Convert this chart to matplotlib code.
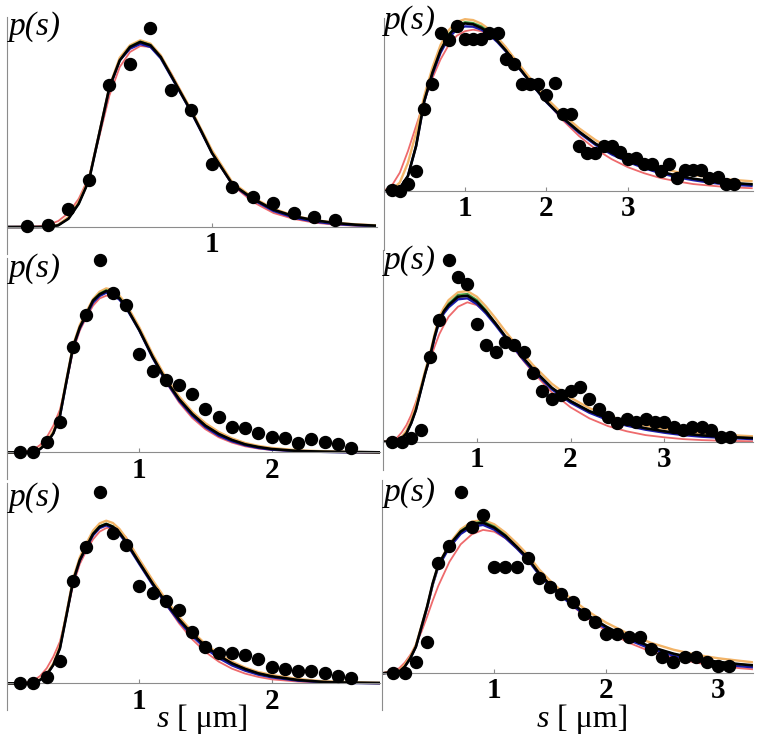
import numpy as np
import matplotlib.pyplot as plt
from matplotlib import font_manager

# ---- panel A (top left) ----
a_s = [0.1, 0.2, 0.3, 0.4, 0.5, 0.6, 0.7, 0.8, 0.9, 1.0, 1.1, 1.2, 1.3, 1.4, 1.5, 1.6]
a_p = [0.007, 0.017, 0.183, 0.467, 1.417, 1.633, 1.993, 1.373, 1.167, 0.633, 0.400, 0.300, 0.243, 0.143, 0.100, 0.067]
a_x = [0, 0.15, 0.2, 0.25, 0.3, 0.35, 0.4, 0.45, 0.5, 0.55, 0.6, 0.65, 0.7, 0.75, 0.8, 0.85, 0.9, 0.95, 1.0,
       1.1, 1.2, 1.3, 1.4, 1.5, 1.6, 1.7, 1.8]
a_black = [0, 0, 0, 0.017, 0.083, 0.233, 0.467, 0.933, 1.400, 1.667, 1.800, 1.850, 1.817, 1.700, 1.517, 1.333,
           1.150, 0.950, 0.740, 0.427, 0.283, 0.173, 0.107, 0.067, 0.040, 0.023, 0.013]
a_red = [0, 0.007, 0.020, 0.060, 0.140, 0.283, 0.500, 0.900, 1.317, 1.600, 1.750, 1.810, 1.800, 1.700, 1.540, 1.350,
         1.150, 0.943, 0.740, 0.417, 0.250, 0.140, 0.080, 0.043, 0.023, 0.013, 0.007]
a_blue = [0, 0, 0.003, 0.020, 0.090, 0.240, 0.473, 0.933, 1.393, 1.667, 1.783, 1.830, 1.800, 1.687, 1.507, 1.327,
          1.143, 0.943, 0.740, 0.423, 0.273, 0.160, 0.093, 0.053, 0.030, 0.017, 0.010]
a_green = [0, 0, 0, 0.017, 0.083, 0.233, 0.467, 0.933, 1.400, 1.667, 1.807, 1.857, 1.823, 1.700, 1.517, 1.333,
           1.150, 0.950, 0.740, 0.427, 0.283, 0.173, 0.107, 0.067, 0.040, 0.023, 0.013]
a_orange = [0, 0, 0.003, 0.023, 0.100, 0.250, 0.483, 0.940, 1.407, 1.693, 1.817, 1.867, 1.833, 1.717, 1.533, 1.350,
            1.167, 0.967, 0.767, 0.445, 0.295, 0.183, 0.113, 0.070, 0.043, 0.027, 0.017]

# ---- panel B (top right) ----
b_s = [0.1, 0.2, 0.3, 0.4, 0.5, 0.6, 0.7, 0.8, 0.9, 1.0, 1.1, 1.2, 1.3, 1.4, 1.5, 1.6, 1.7, 1.8, 1.9, 2.0,
       2.1, 2.2, 2.3, 2.4, 2.5, 2.6, 2.7, 2.8, 2.9, 3.0, 3.1, 3.2, 3.3, 3.4, 3.5, 3.6, 3.7, 3.8, 3.9, 4.0,
       4.1, 4.2, 4.3]
b_p = [0.002, 0, 0.024, 0.067, 0.274, 0.358, 0.528, 0.502, 0.549, 0.506, 0.506, 0.506, 0.528, 0.528, 0.441,
       0.424, 0.358, 0.358, 0.358, 0.319, 0.361, 0.256, 0.256, 0.150, 0.128, 0.128, 0.150, 0.150, 0.130, 0.106,
       0.111, 0.089, 0.089, 0.067, 0.089, 0.044, 0.069, 0.069, 0.069, 0.044, 0.047, 0.024, 0.024]
b_x = [0, 0.1, 0.2, 0.3, 0.4, 0.5, 0.6, 0.7, 0.8, 0.9, 1.0, 1.1, 1.2, 1.3, 1.4, 1.5, 1.6, 1.8, 2.0, 2.2, 2.4,
       2.6, 2.8, 3.0, 3.2, 3.4, 3.6, 3.8, 4.0, 4.2, 4.53]
b_black = [0, 0, 0.009, 0.050, 0.150, 0.300, 0.394, 0.469, 0.520, 0.549, 0.559, 0.556, 0.544, 0.527, 0.500, 0.469,
           0.433, 0.364, 0.298, 0.244, 0.198, 0.158, 0.127, 0.102, 0.081, 0.064, 0.051, 0.041, 0.033, 0.028, 0.022]
b_red = [0, 0.017, 0.061, 0.133, 0.217, 0.300, 0.376, 0.439, 0.487, 0.518, 0.533, 0.538, 0.533, 0.520, 0.498, 0.469,
         0.437, 0.367, 0.298, 0.236, 0.183, 0.140, 0.106, 0.079, 0.059, 0.043, 0.032, 0.023, 0.018, 0.013, 0.009]
b_blue = [0, 0, 0.009, 0.050, 0.150, 0.298, 0.389, 0.461, 0.511, 0.539, 0.549, 0.548, 0.538, 0.521, 0.496, 0.466,
          0.431, 0.362, 0.296, 0.241, 0.194, 0.154, 0.122, 0.097, 0.076, 0.059, 0.046, 0.036, 0.028, 0.022, 0.017]
b_green = [0, 0, 0.009, 0.050, 0.150, 0.300, 0.394, 0.469, 0.524, 0.553, 0.564, 0.561, 0.550, 0.531, 0.500, 0.469,
           0.433, 0.364, 0.298, 0.244, 0.198, 0.158, 0.127, 0.102, 0.081, 0.064, 0.051, 0.041, 0.033, 0.028, 0.022]
b_orange = [0, 0.004, 0.028, 0.094, 0.194, 0.317, 0.411, 0.487, 0.536, 0.564, 0.573, 0.570, 0.558, 0.539, 0.511,
            0.480, 0.444, 0.376, 0.309, 0.256, 0.209, 0.170, 0.139, 0.114, 0.093, 0.077, 0.063, 0.053, 0.046,
            0.039, 0.032]

# ---- panel C (middle left) ----
c_s = [0.1, 0.2, 0.3, 0.4, 0.5, 0.6, 0.7, 0.8, 0.9, 1.0, 1.1, 1.2, 1.3, 1.4, 1.5, 1.6, 1.7, 1.8, 1.9, 2.0,
       2.1, 2.2, 2.3, 2.4, 2.5, 2.6]
c_p = [0.005, 0, 0.075, 0.230, 0.793, 1.030, 1.443, 1.193, 1.105, 0.735, 0.610, 0.543, 0.505, 0.435, 0.325,
       0.263, 0.193, 0.185, 0.143, 0.118, 0.110, 0.068, 0.100, 0.075, 0.060, 0.030]
c_x = [0, 0.15, 0.2, 0.25, 0.3, 0.35, 0.4, 0.45, 0.5, 0.55, 0.6, 0.65, 0.7, 0.75, 0.8, 0.85, 0.9, 1.0, 1.1, 1.2,
       1.3, 1.4, 1.5, 1.6, 1.7, 1.8, 1.9, 2.0, 2.2, 2.4, 2.6, 2.82]
c_black = [0, 0, 0.005, 0.025, 0.068, 0.143, 0.275, 0.538, 0.793, 0.938, 1.038, 1.138, 1.185, 1.210, 1.195, 1.155,
           1.093, 0.918, 0.718, 0.543, 0.400, 0.288, 0.200, 0.138, 0.093, 0.060, 0.040, 0.025, 0.010, 0.005,
           0.003, 0]
c_red = [0, 0.008, 0.020, 0.055, 0.113, 0.200, 0.320, 0.525, 0.763, 0.913, 1.013, 1.100, 1.155, 1.175, 1.175,
         1.150, 1.100, 0.930, 0.720, 0.530, 0.375, 0.258, 0.173, 0.113, 0.073, 0.045, 0.028, 0.018, 0.008, 0.003,
         0, 0]
c_blue = [0, 0, 0.005, 0.025, 0.070, 0.145, 0.270, 0.533, 0.788, 0.930, 1.028, 1.123, 1.173, 1.198, 1.185, 1.145,
          1.085, 0.913, 0.710, 0.533, 0.388, 0.275, 0.188, 0.125, 0.083, 0.053, 0.033, 0.020, 0.008, 0.003, 0, 0]
c_green = [0, 0, 0.005, 0.025, 0.068, 0.143, 0.275, 0.538, 0.793, 0.938, 1.038, 1.143, 1.193, 1.218, 1.203, 1.163,
           1.093, 0.918, 0.718, 0.543, 0.400, 0.288, 0.200, 0.138, 0.093, 0.060, 0.040, 0.025, 0.010, 0.005,
           0.003, 0]
c_orange = [0, 0, 0.008, 0.030, 0.080, 0.158, 0.288, 0.550, 0.805, 0.955, 1.055, 1.150, 1.205, 1.230, 1.218,
            1.175, 1.113, 0.938, 0.738, 0.563, 0.420, 0.305, 0.218, 0.153, 0.105, 0.070, 0.048, 0.033, 0.015,
            0.008, 0.003, 0]

# ---- panel D (middle right) ----
d_s = [0.1, 0.2, 0.3, 0.4, 0.5, 0.6, 0.7, 0.8, 0.9, 1.0, 1.1, 1.2, 1.3, 1.4, 1.5, 1.6, 1.7, 1.8, 1.9, 2.0,
       2.1, 2.2, 2.3, 2.4, 2.5, 2.6, 2.7, 2.8, 2.9, 3.0, 3.1, 3.2, 3.3, 3.4, 3.5, 3.6, 3.7]
d_p = [0, 0, 0.020, 0.058, 0.425, 0.608, 0.908, 0.822, 0.787, 0.588, 0.483, 0.447, 0.500, 0.483, 0.447, 0.342,
       0.253, 0.213, 0.233, 0.253, 0.272, 0.213, 0.163, 0.125, 0.092, 0.113, 0.100, 0.113, 0.100, 0.100, 0.075,
       0.058, 0.075, 0.075, 0.058, 0.025, 0.022]
d_x = [0, 0.15, 0.2, 0.25, 0.3, 0.35, 0.4, 0.45, 0.5, 0.55, 0.6, 0.65, 0.7, 0.8, 0.9, 1.0, 1.1, 1.2, 1.3, 1.4,
       1.5, 1.6, 1.8, 2.0, 2.2, 2.4, 2.6, 2.8, 3.0, 3.2, 3.4, 3.6, 3.95]
d_black = [0, 0, 0.017, 0.042, 0.092, 0.158, 0.250, 0.342, 0.425, 0.525, 0.608, 0.653, 0.683, 0.725, 0.730, 0.700,
           0.650, 0.592, 0.530, 0.475, 0.417, 0.363, 0.270, 0.203, 0.153, 0.117, 0.088, 0.067, 0.052, 0.040,
           0.032, 0.025, 0.018]
d_red = [0, 0.020, 0.047, 0.083, 0.133, 0.197, 0.267, 0.342, 0.408, 0.475, 0.537, 0.583, 0.625, 0.675, 0.697,
         0.683, 0.645, 0.590, 0.527, 0.463, 0.403, 0.347, 0.247, 0.172, 0.117, 0.078, 0.052, 0.033, 0.022, 0.013,
         0.008, 0.005, 0.002]
d_blue = [0, 0, 0.017, 0.042, 0.092, 0.158, 0.250, 0.342, 0.422, 0.517, 0.600, 0.642, 0.672, 0.712, 0.717, 0.688,
          0.640, 0.583, 0.522, 0.467, 0.408, 0.355, 0.262, 0.195, 0.145, 0.108, 0.080, 0.060, 0.045, 0.033, 0.025,
          0.020, 0.013]
d_green = [0, 0, 0.017, 0.042, 0.092, 0.158, 0.250, 0.342, 0.425, 0.525, 0.608, 0.655, 0.692, 0.735, 0.740, 0.710,
           0.658, 0.592, 0.530, 0.475, 0.417, 0.363, 0.270, 0.203, 0.153, 0.117, 0.088, 0.067, 0.052, 0.040,
           0.032, 0.025, 0.018]
d_orange = [0, 0.005, 0.025, 0.055, 0.108, 0.180, 0.267, 0.355, 0.437, 0.537, 0.625, 0.670, 0.708, 0.747, 0.753,
            0.725, 0.675, 0.617, 0.555, 0.497, 0.438, 0.383, 0.290, 0.220, 0.168, 0.130, 0.102, 0.080, 0.065,
            0.052, 0.042, 0.035, 0.027]

# ---- panel E (bottom left) ----
e_s = [0.1, 0.2, 0.3, 0.4, 0.5, 0.6, 0.7, 0.8, 0.9, 1.0, 1.1, 1.2, 1.3, 1.4, 1.5, 1.6, 1.7, 1.8, 1.9, 2.0,
       2.1, 2.2, 2.3, 2.4, 2.5, 2.6]
e_p = [0, 0, 0.050, 0.170, 0.770, 1.025, 1.433, 1.125, 1.038, 0.730, 0.675, 0.618, 0.550, 0.388, 0.275, 0.225,
       0.225, 0.213, 0.180, 0.125, 0.105, 0.095, 0.095, 0.080, 0.055, 0.038]
e_x = [0, 0.15, 0.2, 0.25, 0.3, 0.35, 0.4, 0.45, 0.5, 0.55, 0.6, 0.65, 0.7, 0.75, 0.8, 0.85, 0.9, 1.0, 1.1, 1.2,
       1.3, 1.4, 1.5, 1.6, 1.7, 1.8, 1.9, 2.0, 2.2, 2.4, 2.6, 2.82]
e_black = [0, 0, 0.008, 0.025, 0.063, 0.138, 0.263, 0.513, 0.770, 0.925, 1.025, 1.120, 1.175, 1.195, 1.175, 1.130,
           1.063, 0.905, 0.750, 0.608, 0.480, 0.370, 0.280, 0.208, 0.150, 0.108, 0.075, 0.053, 0.025, 0.010,
           0.005, 0.003]
e_red = [0, 0.008, 0.020, 0.055, 0.113, 0.200, 0.313, 0.513, 0.738, 0.895, 0.995, 1.080, 1.138, 1.165, 1.170,
         1.145, 1.095, 0.925, 0.755, 0.595, 0.450, 0.330, 0.235, 0.163, 0.110, 0.073, 0.048, 0.030, 0.013, 0.005,
         0.003, 0]
e_blue = [0, 0, 0.008, 0.025, 0.065, 0.140, 0.265, 0.518, 0.768, 0.920, 1.018, 1.110, 1.165, 1.185, 1.165, 1.120,
          1.053, 0.895, 0.740, 0.595, 0.465, 0.355, 0.263, 0.190, 0.135, 0.095, 0.065, 0.045, 0.020, 0.008, 0.003, 0]
e_green = [0, 0, 0.008, 0.025, 0.063, 0.138, 0.263, 0.513, 0.770, 0.925, 1.025, 1.125, 1.180, 1.200, 1.180, 1.135,
           1.063, 0.905, 0.750, 0.608, 0.480, 0.370, 0.280, 0.208, 0.150, 0.108, 0.075, 0.053, 0.025, 0.010,
           0.005, 0.003]
e_orange = [0, 0, 0.010, 0.030, 0.073, 0.150, 0.280, 0.530, 0.788, 0.945, 1.050, 1.145, 1.200, 1.220, 1.203,
            1.158, 1.090, 0.930, 0.775, 0.630, 0.500, 0.388, 0.295, 0.220, 0.163, 0.118, 0.085, 0.063, 0.033,
            0.015, 0.008, 0.003]

# ---- panel F (bottom right) ----
f_s = [0.1, 0.2, 0.3, 0.4, 0.5, 0.6, 0.7, 0.8, 0.9, 1.0, 1.1, 1.2, 1.3, 1.4, 1.5, 1.6, 1.7, 1.8, 1.9, 2.0,
       2.1, 2.2, 2.3, 2.4, 2.5, 2.6, 2.7, 2.8, 2.9, 3.0, 3.1]
f_p = [0, 0, 0.058, 0.158, 0.550, 0.637, 0.908, 0.730, 0.792, 0.533, 0.533, 0.533, 0.575, 0.475, 0.433, 0.397,
       0.358, 0.297, 0.258, 0.197, 0.197, 0.180, 0.180, 0.122, 0.080, 0.058, 0.083, 0.083, 0.058, 0.038, 0.038]
f_x = [0, 0.15, 0.2, 0.25, 0.3, 0.35, 0.4, 0.45, 0.5, 0.6, 0.7, 0.8, 0.9, 1.0, 1.1, 1.2, 1.3, 1.4, 1.5, 1.6,
       1.7, 1.8, 1.9, 2.0, 2.2, 2.4, 2.6, 2.8, 3.0, 3.2, 3.31]
f_black = [0, 0.008, 0.033, 0.075, 0.133, 0.233, 0.333, 0.450, 0.542, 0.642, 0.708, 0.745, 0.753, 0.728, 0.687,
           0.633, 0.575, 0.500, 0.442, 0.392, 0.347, 0.305, 0.267, 0.233, 0.177, 0.132, 0.098, 0.073, 0.057,
           0.045, 0.040]
f_red = [0, 0.025, 0.053, 0.092, 0.142, 0.208, 0.283, 0.363, 0.437, 0.558, 0.645, 0.695, 0.717, 0.708, 0.675,
         0.625, 0.567, 0.505, 0.445, 0.388, 0.337, 0.290, 0.248, 0.212, 0.153, 0.108, 0.077, 0.053, 0.037, 0.025,
         0.020]
f_blue = [0, 0.008, 0.033, 0.075, 0.133, 0.230, 0.328, 0.442, 0.533, 0.630, 0.697, 0.733, 0.742, 0.718, 0.677,
          0.625, 0.567, 0.493, 0.435, 0.385, 0.338, 0.297, 0.258, 0.223, 0.167, 0.122, 0.088, 0.063, 0.047, 0.035,
          0.030]
f_green = [0, 0.008, 0.033, 0.075, 0.133, 0.233, 0.333, 0.450, 0.542, 0.642, 0.713, 0.750, 0.760, 0.735, 0.692,
           0.633, 0.575, 0.500, 0.442, 0.392, 0.347, 0.305, 0.267, 0.233, 0.177, 0.132, 0.098, 0.073, 0.057,
           0.045, 0.040]
f_orange = [0, 0.013, 0.042, 0.083, 0.142, 0.237, 0.333, 0.447, 0.542, 0.650, 0.720, 0.758, 0.767, 0.745, 0.703,
            0.650, 0.592, 0.520, 0.462, 0.412, 0.367, 0.325, 0.287, 0.253, 0.197, 0.152, 0.118, 0.093, 0.075,
            0.062, 0.055]

xticks_a = [1]
xticks_b = [1, 2, 3]
xticks_c = [1, 2]
xticks_d = [1, 2, 3]
xticks_e = [1, 2]
xticks_f = [1, 2, 3]

# pick a Times-like serif that is really installed
installed = {f.name for f in font_manager.fontManager.ttflist}
SERIF = [n for n in ['Liberation Serif', 'DejaVu Serif'] if n in installed] + ['DejaVu Sans']

W, H = 759, 742
fig = plt.figure(figsize=(W / 100, H / 100), dpi=100)

line_styles = [('#ee6a6c', 1.3), ('#1a1aa8', 1.7), ('#f2b468', 1.7), ('#3d9a3a', 1.2), ('black', 1.9)]


def add_panel(box, xmax, ylim, ticks, x, curves, s, p, ps_pos):
    left, top, right, bottom = box
    ax = fig.add_axes([left / W, 1 - bottom / H, (right - left) / W, (bottom - top) / H])
    for ys, (color, lw) in zip(curves, line_styles):
        ax.plot(x, ys, color=color, lw=lw, solid_capstyle='butt')
    ax.plot(s, p, 'o', color='black', ms=8.6, zorder=5, clip_on=False)
    ax.set_xlim(0, xmax)
    ax.set_ylim(*ylim)
    for side in ['top', 'right']:
        ax.spines[side].set_visible(False)
    ax.spines['bottom'].set_position(('data', 0))
    for side in ['bottom', 'left']:
        ax.spines[side].set_color('#8c8c8c')
        ax.spines[side].set_linewidth(0.8)
    ax.set_yticks([])
    ax.set_xticks(ticks)
    ax.set_xticklabels([str(t) for t in ticks], family=SERIF, fontweight='bold', fontsize=21)
    ax.tick_params(axis='x', direction='in', length=3, color='#8c8c8c', pad=3)
    ax.patch.set_alpha(0)
    fig.text(ps_pos[0] / W, 1 - ps_pos[1] / H, 'p(s)', family=SERIF, fontstyle='italic',
             fontsize=24, ha='left', va='baseline')
    return ax


add_panel((7, 17, 377, 254), 1.805, (-0.27, 2.10), xticks_a, a_x,
          [a_red, a_blue, a_orange, a_green, a_black], a_s, a_p, (9, 35))
add_panel((383.5, 18, 753, 250), 4.534, (-0.197, 0.577), xticks_b, b_x,
          [b_red, b_blue, b_orange, b_green, b_black], b_s, b_p, (384, 29))
add_panel((7, 258, 380, 479), 2.819, (-0.200, 1.458), xticks_c, c_x,
          [c_red, c_blue, c_orange, c_green, c_black], c_s, c_p, (9, 277))
add_panel((383, 250, 753, 470), 3.946, (-0.1415, 0.9585), xticks_d, d_x,
          [d_red, d_blue, d_orange, d_green, d_black], d_s, d_p, (384, 269))
add_panel((7, 483, 380, 710), 2.819, (-0.200, 1.503), xticks_e, e_x,
          [e_red, e_blue, e_orange, e_green, e_black], e_s, e_p, (9, 506))
add_panel((382.3, 480, 753, 710), 3.31, (-0.1835, 0.9665), xticks_f, f_x,
          [f_red, f_blue, f_orange, f_green, f_black], f_s, f_p, (384, 501))

# x label: italic s followed by upright unit, centred under each bottom panel
for left_edge in [157, 537]:
    t = fig.text(left_edge / W, 1 - 727 / H, 's', family=SERIF, fontstyle='italic', fontsize=23,
                 ha='left', va='baseline')
    fig.text((left_edge + 12) / W, 1 - 727 / H, ' [ μm]', family=SERIF, fontsize=23,
             ha='left', va='baseline')

fig.savefig('out.png', dpi=100)
